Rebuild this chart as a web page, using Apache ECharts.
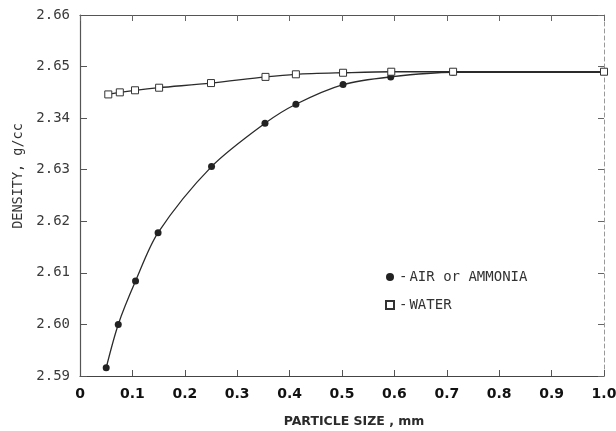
<!DOCTYPE html>
<html>
<head>
<meta charset="utf-8">
<script src="https://cdn.jsdelivr.net/npm/echarts@6/dist/echarts.min.js"></script>
<style>
  html, body { margin: 0; padding: 0; background: #fff; }
  #chart { width: 616px; height: 431px; }
</style>
</head>
<body>
<div id="chart"></div>
<script>
// Particle density vs. size, measured in two media
const airSize = [0.050, 0.073, 0.106, 0.149, 0.251, 0.353, 0.412, 0.502, 0.593, 0.712, 1.0];
const airDensity = [2.5916, 2.6000, 2.6084, 2.6178, 2.6306, 2.6390, 2.6427, 2.6465, 2.6480, 2.6489, 2.6489];

const waterSize = [0.054, 0.076, 0.105, 0.151, 0.250, 0.354, 0.412, 0.502, 0.594, 0.712, 1.0];
const waterDensity = [2.6446, 2.6450, 2.6454, 2.6459, 2.6468, 2.6480, 2.6485, 2.6488, 2.6490, 2.6490, 2.6490];

const xTickLabels = ['0', '0.1', '0.2', '0.3', '0.4', '0.5', '0.6', '0.7', '0.8', '0.9', '1.0'];
const yTickLabels = ['2.59', '2.60', '2.61', '2.62', '2.63', '2.34', '2.65', '2.66'];

const seriesNames = ['AIR or AMMONIA', 'WATER'];
const yTitle = 'DENSITY, g/cc';
const xTitle = 'PARTICLE SIZE , mm';

const ink = '#2b2b2b';
const mono = '"DejaVu Sans Mono", "Liberation Mono", monospace';
const boldSans = '"DejaVu Sans", Verdana, sans-serif';

const airPoints = airSize.map((x, i) => {
  const p = { value: [x, airDensity[i]] };
  if (i === airSize.length - 1) p.symbol = 'none';
  return p;
});
const waterPoints = waterSize.map((x, i) => [x, waterDensity[i]]);

const chart = echarts.init(document.getElementById('chart'), null, { renderer: 'canvas' });

chart.setOption({
  animation: false,
  backgroundColor: '#ffffff',
  grid: { left: 80, right: 12, top: 15, bottom: 55, containLabel: false, outerBoundsMode: 'none' },
  xAxis: [
    {
      type: 'value', min: 0, max: 1, interval: 0.1, position: 'bottom',
      name: xTitle, nameLocation: 'middle', nameGap: 39,
      nameTextStyle: { fontFamily: boldSans, fontWeight: 'bold', fontSize: 12.5, color: ink, padding: [0, 0, 0, 24] },
      axisLine: { show: true, onZero: false, lineStyle: { color: '#444', width: 1.2 } },
      axisTick: { show: true, inside: true, length: 6, lineStyle: { color: '#555' } },
      axisLabel: {
        margin: 11, color: '#111', fontFamily: boldSans, fontWeight: 'bold', fontSize: 14,
        formatter: v => xTickLabels[Math.round(v * 10)]
      },
      splitLine: { show: false }
    },
    {
      type: 'value', min: 0, max: 1, interval: 0.1, position: 'top',
      axisLine: { show: true, onZero: false, lineStyle: { color: '#555', width: 1.2 } },
      axisTick: { show: true, inside: true, length: 6, lineStyle: { color: '#666' } },
      axisLabel: { show: false },
      splitLine: { show: false }
    }
  ],
  yAxis: [
    {
      type: 'value', min: 2.59, max: 2.66, interval: 0.01, position: 'left',
      axisLine: { show: true, onZero: false, lineStyle: { color: '#555', width: 1.2 } },
      axisTick: { show: true, inside: true, length: 7, lineStyle: { color: '#555' } },
      axisLabel: {
        margin: 10, color: '#3a3a3a', fontFamily: mono, fontSize: 14,
        formatter: v => yTickLabels[Math.round((v - 2.59) * 100)]
      },
      splitLine: { show: false }
    },
    {
      type: 'value', min: 2.59, max: 2.66, interval: 0.01, position: 'right',
      axisLine: { show: true, onZero: false, lineStyle: { color: '#999', width: 1, type: [4, 3] } },
      axisTick: { show: true, inside: true, length: 6, lineStyle: { color: '#666' } },
      axisLabel: { show: false },
      splitLine: { show: false }
    }
  ],
  graphic: [
    {
      type: 'text', x: 18, y: 176, rotation: Math.PI / 2,
      style: {
        text: yTitle, fontFamily: mono, fontSize: 13.5, fill: '#333',
        textAlign: 'center', textVerticalAlign: 'middle'
      }
    }
  ],
  legend: {
    orient: 'vertical', left: 385, top: 270, itemGap: 14, padding: 0,
    itemWidth: 8, itemHeight: 8,
    formatter: name => '{d|-}{t|' + name + '}',
    textStyle: {
      fontFamily: mono, fontSize: 14, color: '#333',
      rich: {
        d: { fontFamily: mono, fontSize: 14, color: '#333', padding: [0, 2, 0, 0] },
        t: { fontFamily: mono, fontSize: 14, color: '#333' }
      }
    },
    data: [
      { name: seriesNames[0], icon: 'circle' },
      { name: seriesNames[1], icon: 'rect' }
    ]
  },
  series: [
    {
      name: seriesNames[0], type: 'line', xAxisIndex: 0, yAxisIndex: 0,
      data: airPoints, smooth: 0.3,
      symbol: 'circle', symbolSize: 7,
      lineStyle: { color: ink, width: 1.3 },
      itemStyle: { color: '#222', borderColor: '#222', borderWidth: 0 },
      z: 2
    },
    {
      name: seriesNames[1], type: 'line', xAxisIndex: 0, yAxisIndex: 0,
      data: waterPoints, smooth: 0.3,
      symbol: 'rect', symbolSize: 7,
      lineStyle: { color: ink, width: 1.3 },
      itemStyle: { color: '#ffffff', borderColor: '#333', borderWidth: 1 },
      z: 3
    }
  ]
});
</script>
</body>
</html>
